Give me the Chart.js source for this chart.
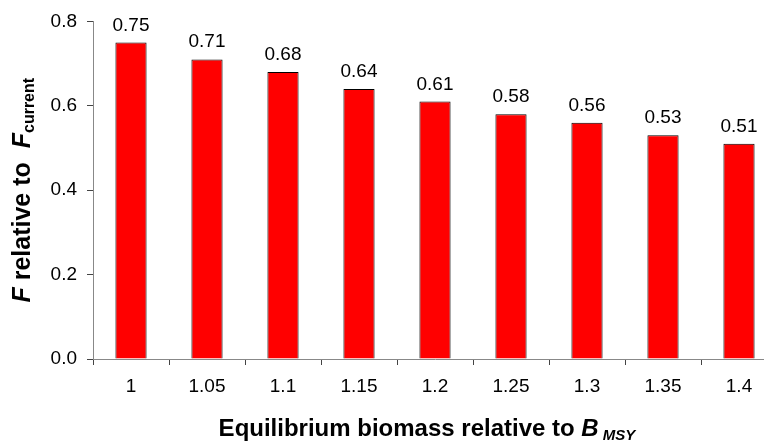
<!DOCTYPE html>
<html>
<head>
<meta charset="utf-8">
<script src="https://cdn.jsdelivr.net/npm/chart.js@4.4.0/dist/chart.umd.min.js"></script>
<style>
  html, body { margin: 0; padding: 0; background: #fff; overflow: hidden; }
  #wrap { width: 790px; height: 443px; }
</style>
</head>
<body>
<div id="wrap"><canvas id="fchart"></canvas></div>
<script>
// equilibrium biomass (relative to B_MSY) and the F relative to F_current
const categories = ['1', '1.05', '1.1', '1.15', '1.2', '1.25', '1.3', '1.35', '1.4'];
const fValues = [0.75, 0.71, 0.68, 0.64, 0.61, 0.58, 0.56, 0.53, 0.51];
const yMin = 0, yMax = 0.8, yStep = 0.2;

const FONT = '"Liberation Sans", Arial, sans-serif';

// draws a run of text pieces (each with its own font / vertical shift) centred on x
function drawRich(ctx, parts, x, y) {
  let total = 0;
  parts.forEach(p => { ctx.font = p.font; total += ctx.measureText(p.text).width; });
  let cx = x - total / 2;
  parts.forEach(p => {
    ctx.font = p.font;
    ctx.fillText(p.text, cx, y + (p.dy || 0));
    cx += ctx.measureText(p.text).width;
  });
}

const labelsPlugin = {
  id: 'labels',
  afterDatasetsDraw(chart) {
    const ctx = chart.ctx;
    const meta = chart.getDatasetMeta(0);
    ctx.save();
    ctx.fillStyle = '#000';
    ctx.font = '19px ' + FONT;
    ctx.textAlign = 'center';
    ctx.textBaseline = 'alphabetic';
    meta.data.forEach((bar, i) => {
      ctx.fillText(fValues[i].toFixed(2), bar.x, bar.y - 12);
    });
    ctx.restore();
  },
  afterDraw(chart) {
    const ctx = chart.ctx;
    const area = chart.chartArea;
    const big = 'bold 24px ' + FONT;
    const bigIt = 'italic bold 24px ' + FONT;
    const subIt = 'italic bold 15px ' + FONT;
    ctx.save();
    ctx.fillStyle = '#000';
    ctx.textAlign = 'left';
    ctx.textBaseline = 'alphabetic';
    // x axis title (the plot runs past the right edge, so pull it a little left)
    drawRich(ctx, [
      { text: 'Equilibrium biomass relative to ', font: big },
      { text: 'B', font: bigIt },
      { text: ' MSY', font: subIt, dy: 4 }
    ], (area.left + area.right) / 2 - 8, 436);
    // y axis title
    ctx.translate(30, (area.top + area.bottom) / 2);
    ctx.rotate(-Math.PI / 2);
    drawRich(ctx, [
      { text: 'F', font: 'italic bold 25px ' + FONT },
      { text: ' relative to  ', font: 'bold 25px ' + FONT },
      { text: 'F', font: 'italic bold 25px ' + FONT },
      { text: 'current', font: 'bold 16px ' + FONT, dy: 4 }
    ], 0, 0);
    ctx.restore();
  }
};

new Chart(document.getElementById('fchart'), {
  type: 'bar',
  data: {
    labels: categories,
    datasets: [{
      data: fValues,
      backgroundColor: '#ff0000',
      borderColor: '#000',
      borderWidth: 1,
      categoryPercentage: 1.0,
      barPercentage: 0.41
    }]
  },
  options: {
    responsive: true,
    maintainAspectRatio: false,
    animation: false,
    layout: { padding: { top: 19, right: 13, left: 0, bottom: 0 } },
    plugins: {
      legend: { display: false },
      tooltip: { enabled: false }
    },
    scales: {
      x: {
        grid: { drawOnChartArea: false, color: '#444', tickLength: 6, offset: true },
        border: { color: '#888', width: 1 },
        ticks: { color: '#000', font: { family: FONT, size: 19 }, padding: 10, maxRotation: 0 },
        afterFit: s => { s.height = 84; }
      },
      y: {
        min: yMin,
        max: yMax,
        grid: { drawOnChartArea: false, color: '#444', tickLength: 6 },
        border: { color: '#888', width: 1 },
        ticks: {
          stepSize: yStep,
          color: '#000',
          font: { family: FONT, size: 19 },
          padding: 10,
          callback: v => v.toFixed(1)
        },
        afterFit: s => { s.width = 93; }
      }
    }
  },
  plugins: [labelsPlugin]
});
</script>
</body>
</html>
